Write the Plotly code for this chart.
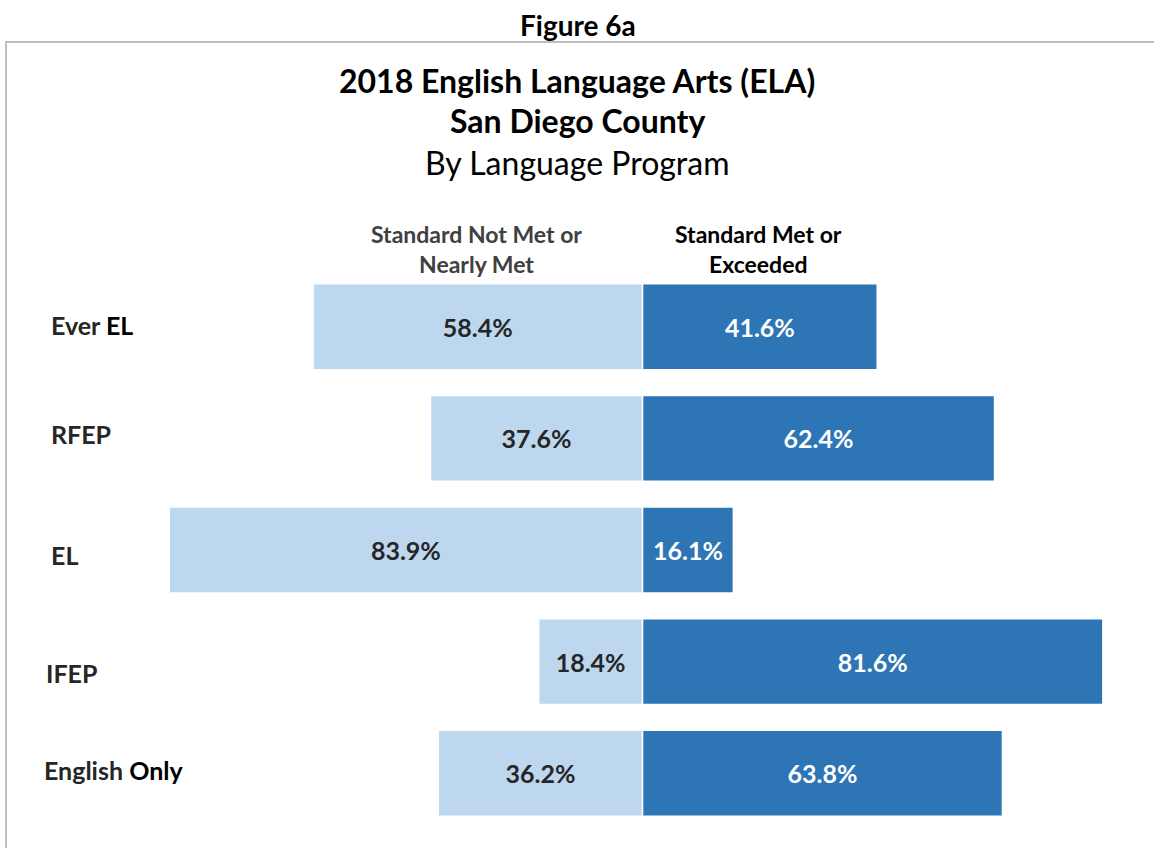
import plotly.graph_objects as go

# data
groups = ['Ever EL', 'RFEP', 'EL', 'IFEP', 'English Only']
group_labels = ['Ever <span style="color:#000000">EL</span>', 'RFEP', 'EL', 'IFEP',
                'English <span style="color:#000000">Only</span>']
not_met = [58.4, 37.6, 83.9, 18.4, 36.2]
met = [41.6, 62.4, 16.1, 81.6, 63.8]

LIGHT = '#BDD7EE'
DARK = '#2E75B6'
FONT = 'Lato, Carlito, Calibri, sans-serif'

fig = go.Figure()
fig.add_trace(go.Bar(
    y=groups, x=[-v for v in not_met], orientation='h',
    marker=dict(color=LIGHT, line=dict(color='white', width=1.5)),
    text=[f'{v:.1f}%' for v in not_met], textposition='inside',
    insidetextanchor='middle', textangle=0,
    textfont=dict(size=25, color='#262626', family=FONT, weight='bold'),
    width=0.77, hoverinfo='skip', name='Standard Not Met or Nearly Met'))
fig.add_trace(go.Bar(
    y=groups, x=met, orientation='h',
    marker=dict(color=DARK, line=dict(color='white', width=1.5)),
    text=[f'{v:.1f}%' for v in met], textposition='inside',
    insidetextanchor='middle', textangle=0,
    textfont=dict(size=25, color='white', family=FONT, weight='bold'),
    width=0.77, hoverinfo='skip', name='Standard Met or Exceeded'))

# category labels on the left (left aligned, slightly uneven like the original)
yshifts = [2, 4, -5, -11, 3]
xshifts = [0, 0, 0, -5, -7]
for g, lab, ys, xs in zip(groups, group_labels, yshifts, xshifts):
    fig.add_annotation(x=-105.2, y=g, xref='x', yref='y', text=lab, showarrow=False,
                       xanchor='left', yshift=ys, xshift=xs,
                       font=dict(size=25, color='#262626', family=FONT, weight='bold'))

# column headers
fig.add_annotation(x=-29.5, y=-0.5, yref='y', xref='x', yshift=22.5, yanchor='middle',
                   text='Standard Not Met or<br>Nearly Met', showarrow=False,
                   font=dict(size=23, color='#404040', family=FONT, weight='bold'))
fig.add_annotation(x=20.6, y=-0.5, yref='y', xref='x', yshift=22.5, yanchor='middle',
                   text='Standard Met or<br>Exceeded', showarrow=False,
                   font=dict(size=23, color='#000000', family=FONT, weight='bold'))

# titles
fig.add_annotation(x=0.494, y=1.0, xref='paper', yref='paper', yshift=265, text='<b>Figure 6a</b>',
                   showarrow=False, font=dict(size=28, color='black', family=FONT))
fig.add_annotation(x=0.493, y=1.0, xref='paper', yref='paper', yshift=212,
                   text='<b>2018 English Language Arts (ELA)</b>', showarrow=False,
                   font=dict(size=32, color='black', family=FONT))
fig.add_annotation(x=0.493, y=1.0, xref='paper', yref='paper', yshift=172,
                   text='<b>San Diego County</b>', showarrow=False,
                   font=dict(size=32, color='black', family=FONT))
fig.add_annotation(x=0.493, y=1.0, xref='paper', yref='paper', yshift=130,
                   text='By Language Program', showarrow=False,
                   font=dict(size=32, color='black', family=FONT))

# chart frame (top and left edges)
fig.add_shape(type='path', xref='paper', yref='paper',
              path='M -0.0142,-0.1 L -0.0142,1.4104 L 1.02,1.4104',
              line=dict(color='#BFBFBF', width=2))

fig.update_layout(
    width=1154, height=848,
    margin=dict(l=22, r=6, t=271, b=19),
    barmode='relative', bargap=0.23,
    plot_bgcolor='white', paper_bgcolor='white',
    showlegend=False,
    xaxis=dict(range=[-110, 89.6], visible=False, fixedrange=True),
    yaxis=dict(range=[4.5, -0.5], visible=False, fixedrange=True),
    font=dict(family=FONT),
)

fig.write_html("out.html", config={'displayModeBar': False},
               post_script="document.body.style.margin='0';")
